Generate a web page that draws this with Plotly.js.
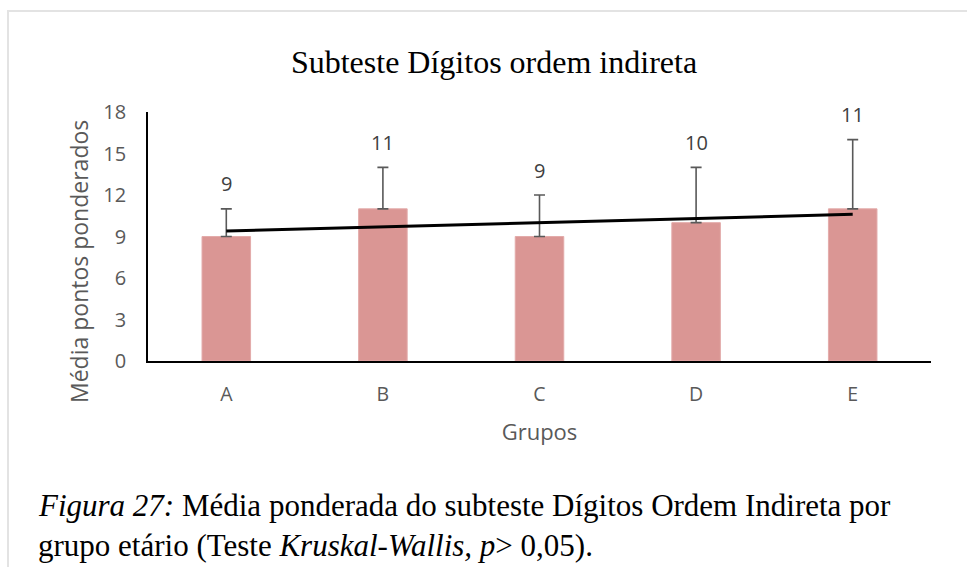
<!DOCTYPE html>
<html>
<head>
<meta charset="utf-8">
<script src="https://cdn.plot.ly/plotly-3.0.1.min.js"></script>
<style>
  html, body { margin: 0; padding: 0; background: #fff; }
  #wrap { position: relative; width: 967px; height: 567px; }
  #chart { width: 967px; height: 567px; }
  #frame { position: absolute; left: 7px; top: 10px; width: 960px; height: 557px;
           border-top: 2px solid #e3e3e3; border-left: 2px solid #e3e3e3;
           box-sizing: border-box; pointer-events: none; }
</style>
</head>
<body>
<div id="wrap">
  <div id="chart"></div>
  <div id="frame"></div>
</div>
<script>
// Data
const groups = ['A', 'B', 'C', 'D', 'E'];
const means = [9, 11, 9, 10, 11];
const errorPlus = [2, 3, 3, 4, 5];
const valueLabels = ['9', '11', '9', '10', '11'];
const trendGroups = ['A', 'E'];
const trendValues = [9.4, 10.6];
const yTicks = [0, 3, 6, 9, 12, 15, 18];

const chartTitle = 'Subteste Dígitos ordem indireta';
const yTitle = 'Média pontos ponderados';
const xTitle = 'Grupos';
const captionLine1 = '<i>Figura 27:</i> Média ponderada do subteste Dígitos Ordem Indireta por';
const captionLine2 = 'grupo etário (Teste <i>Kruskal-Wallis, p</i>> 0,05).';

const sansFont = '"Open Sans", "Noto Sans", sans-serif';
const serifFont = '"Liberation Serif", "Times New Roman", serif';

const barTrace = {
  type: 'bar',
  x: groups,
  y: means,
  marker: { color: '#DA9694', line: { color: '#E3ABAA', width: 1 } },
  error_y: { type: 'data', symmetric: false, array: errorPlus, arrayminus: errorPlus.map(() => 0),
             color: '#595959', thickness: 1.6, width: 5.5 },
  hoverinfo: 'x+y',
  showlegend: false
};

const trendTrace = {
  type: 'scatter',
  mode: 'lines',
  x: trendGroups,
  y: trendValues,
  line: { color: '#000000', width: 3 },
  hoverinfo: 'skip',
  showlegend: false
};

const labelAnnotations = groups.map((g, i) => ({
  x: g, y: means[i] + errorPlus[i], xref: 'x', yref: 'y',
  text: valueLabels[i], showarrow: false, yshift: 25,
  font: { family: sansFont, size: 20, color: '#404040' }
}));

const W = 967, H = 567;
const margin = { l: 148, r: 36, t: 112, b: 206 };
const pw = W - margin.l - margin.r, ph = H - margin.t - margin.b;
const px = v => (v - margin.l) / pw;
const py = v => (H - margin.b - v) / ph;

const captionAnnotations = [
  { text: captionLine1, xref: 'paper', yref: 'paper', x: px(36), y: py(505), xanchor: 'left', yanchor: 'middle',
    showarrow: false, font: { family: serifFont, size: 31, color: '#000' } },
  { text: captionLine2, xref: 'paper', yref: 'paper', x: px(36), y: py(545), xanchor: 'left', yanchor: 'middle',
    showarrow: false, font: { family: serifFont, size: 31, color: '#000' } }
];

const yTitleAnnotation = {
  text: yTitle, xref: 'paper', yref: 'paper', x: px(79), y: py(262),
  xanchor: 'center', yanchor: 'middle', textangle: -90, showarrow: false,
  font: { family: sansFont, size: 23, color: '#595959' }
};

const layout = {
  width: W, height: H,
  margin: margin,
  paper_bgcolor: '#ffffff',
  plot_bgcolor: '#ffffff',
  bargap: 0.69,
  title: { text: chartTitle, x: 494 / W, xref: 'container', xanchor: 'center',
           y: 1 - 62 / H, yref: 'container', yanchor: 'middle',
           font: { family: serifFont, size: 32, color: '#000' } },
  xaxis: {
    type: 'category',
    showline: true, linecolor: '#000', linewidth: 1.8,
    showgrid: false, zeroline: false, ticks: '',
    ticklabelstandoff: 15,
    tickfont: { family: sansFont, size: 19.5, color: '#595959' },
    title: { text: xTitle, standoff: 18, font: { family: sansFont, size: 22, color: '#595959' } }
  },
  yaxis: {
    range: [0, 18],
    tickvals: yTicks,
    showline: true, linecolor: '#000', linewidth: 1.8,
    showgrid: false, zeroline: false, ticks: '',
    ticklabelstandoff: 16,
    tickfont: { family: sansFont, size: 20, color: '#595959' }
  },
  annotations: labelAnnotations.concat(captionAnnotations, [yTitleAnnotation])
};

Plotly.newPlot('chart', [barTrace, trendTrace], layout, { displayModeBar: false, staticPlot: true });
</script>
</body>
</html>
